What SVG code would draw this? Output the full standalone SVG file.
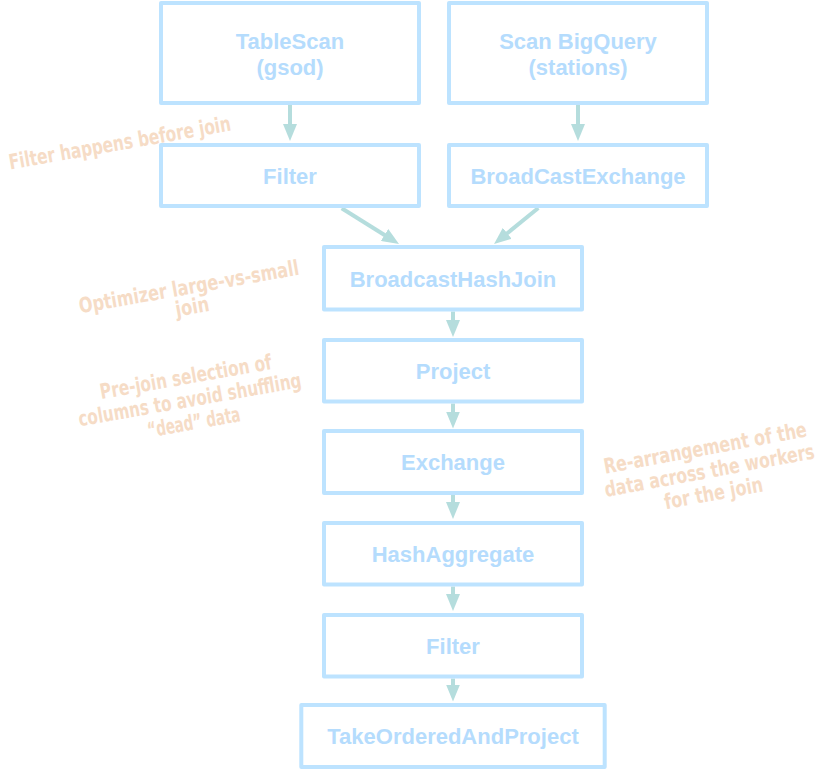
<svg xmlns="http://www.w3.org/2000/svg" width="834" height="770" viewBox="0 0 834 770">
<style>
.box{fill:#ffffff;stroke:#bde3ff;stroke-width:4;stroke-linejoin:round}
.lbl{font-family:"Liberation Sans",Arial,sans-serif;font-weight:bold;font-size:22px;fill:#b5dcfd;text-anchor:middle}
.edge{fill:none;stroke:#b5dddd;stroke-width:4}
.note{font-family:"DejaVu Sans Condensed","DejaVu Sans",sans-serif;font-weight:bold;font-size:18px;fill:#f6dcc6;text-anchor:middle}
</style>
<defs>
<marker id="ah" viewBox="0 0 17 14" refX="7" refY="7" markerWidth="17" markerHeight="14" markerUnits="userSpaceOnUse" orient="auto">
<polygon points="0,0 17,7 0,14" fill="#b5dddd"/>
</marker>
</defs>
<rect width="834" height="770" fill="#ffffff"/>
<g id="connectors">
<line class="edge" x1="290" y1="105" x2="290" y2="131" marker-end="url(#ah)"/>
<line class="edge" x1="578" y1="105" x2="578" y2="131" marker-end="url(#ah)"/>
<line class="edge" x1="341.7" y1="208.3" x2="390.5" y2="238.7" marker-end="url(#ah)"/>
<line class="edge" x1="538.3" y1="208" x2="501.8" y2="237.7" marker-end="url(#ah)"/>
<line class="edge" x1="453" y1="311.5" x2="453" y2="327" marker-end="url(#ah)"/>
<line class="edge" x1="453" y1="403.5" x2="453" y2="418.5" marker-end="url(#ah)"/>
<line class="edge" x1="453" y1="495" x2="453" y2="509" marker-end="url(#ah)"/>
<line class="edge" x1="453" y1="586.5" x2="453" y2="601" marker-end="url(#ah)"/>
<line class="edge" x1="453" y1="678.5" x2="453" y2="691.5" marker-end="url(#ah)"/>
</g>
<g id="tablescan"><rect class="box" x="161" y="3" width="258" height="100"/><text class="lbl" x="290" y="49">TableScan</text><text class="lbl" x="290" y="75">(gsod)</text></g>
<g id="scanbigquery"><rect class="box" x="449" y="3" width="258" height="100"/><text class="lbl" x="578" y="49">Scan BigQuery</text><text class="lbl" x="578" y="75">(stations)</text></g>
<g id="filter1"><rect class="box" x="161" y="145" width="258" height="61"/><text class="lbl" x="290" y="184">Filter</text></g>
<g id="broadcastexchange"><rect class="box" x="449" y="145" width="258" height="61"/><text class="lbl" x="578" y="184">BroadCastExchange</text></g>
<g id="broadcasthashjoin"><rect class="box" x="324" y="247" width="258" height="62.5"/><text class="lbl" x="453" y="286.5">BroadcastHashJoin</text></g>
<g id="project"><rect class="box" x="324" y="340" width="258" height="61.5"/><text class="lbl" x="453" y="379">Project</text></g>
<g id="exchange"><rect class="box" x="324" y="431" width="258" height="62"/><text class="lbl" x="453" y="470">Exchange</text></g>
<g id="hashaggregate"><rect class="box" x="324" y="523" width="258" height="61.5"/><text class="lbl" x="453" y="562">HashAggregate</text></g>
<g id="filter2"><rect class="box" x="324" y="615" width="258" height="61.5"/><text class="lbl" x="453" y="654">Filter</text></g>
<g id="takeorderedandproject"><rect class="box" x="301.3" y="705" width="303.4" height="62"/><text class="lbl" x="453" y="744">TakeOrderedAndProject</text></g>
<g id="note-filter" transform="translate(121,150) rotate(-10) scale(1,1.17)">
<text class="note" x="0" y="0" textLength="225" lengthAdjust="spacingAndGlyphs">Filter happens before join</text>
</g>
<g id="note-optimizer" transform="translate(190,294) rotate(-10) scale(1,1.17)">
<text class="note" x="0" y="0" textLength="223" lengthAdjust="spacingAndGlyphs">Optimizer large-vs-small</text>
<text class="note" x="0" y="17.1" textLength="34" lengthAdjust="spacingAndGlyphs">join</text>
</g>
<g id="note-prejoin" transform="translate(187,384) rotate(-10) scale(1,1.17)">
<text class="note" x="0" y="0" textLength="174" lengthAdjust="spacingAndGlyphs">Pre-join selection of</text>
<text class="note" x="0" y="19.7" textLength="226" lengthAdjust="spacingAndGlyphs">columns to avoid shuffling</text>
<text class="note" x="0" y="39.3" textLength="94" lengthAdjust="spacingAndGlyphs">“dead” data</text>
</g>
<g id="note-exchange" transform="translate(706.5,455) rotate(-10.5) scale(1,1.17)">
<text class="note" x="0" y="0" textLength="206" lengthAdjust="spacingAndGlyphs">Re-arrangement of the</text>
<text class="note" x="0" y="19.7" textLength="213" lengthAdjust="spacingAndGlyphs">data across the workers</text>
<text class="note" x="0" y="39.3" textLength="100" lengthAdjust="spacingAndGlyphs">for the join</text>
</g>
</svg>
